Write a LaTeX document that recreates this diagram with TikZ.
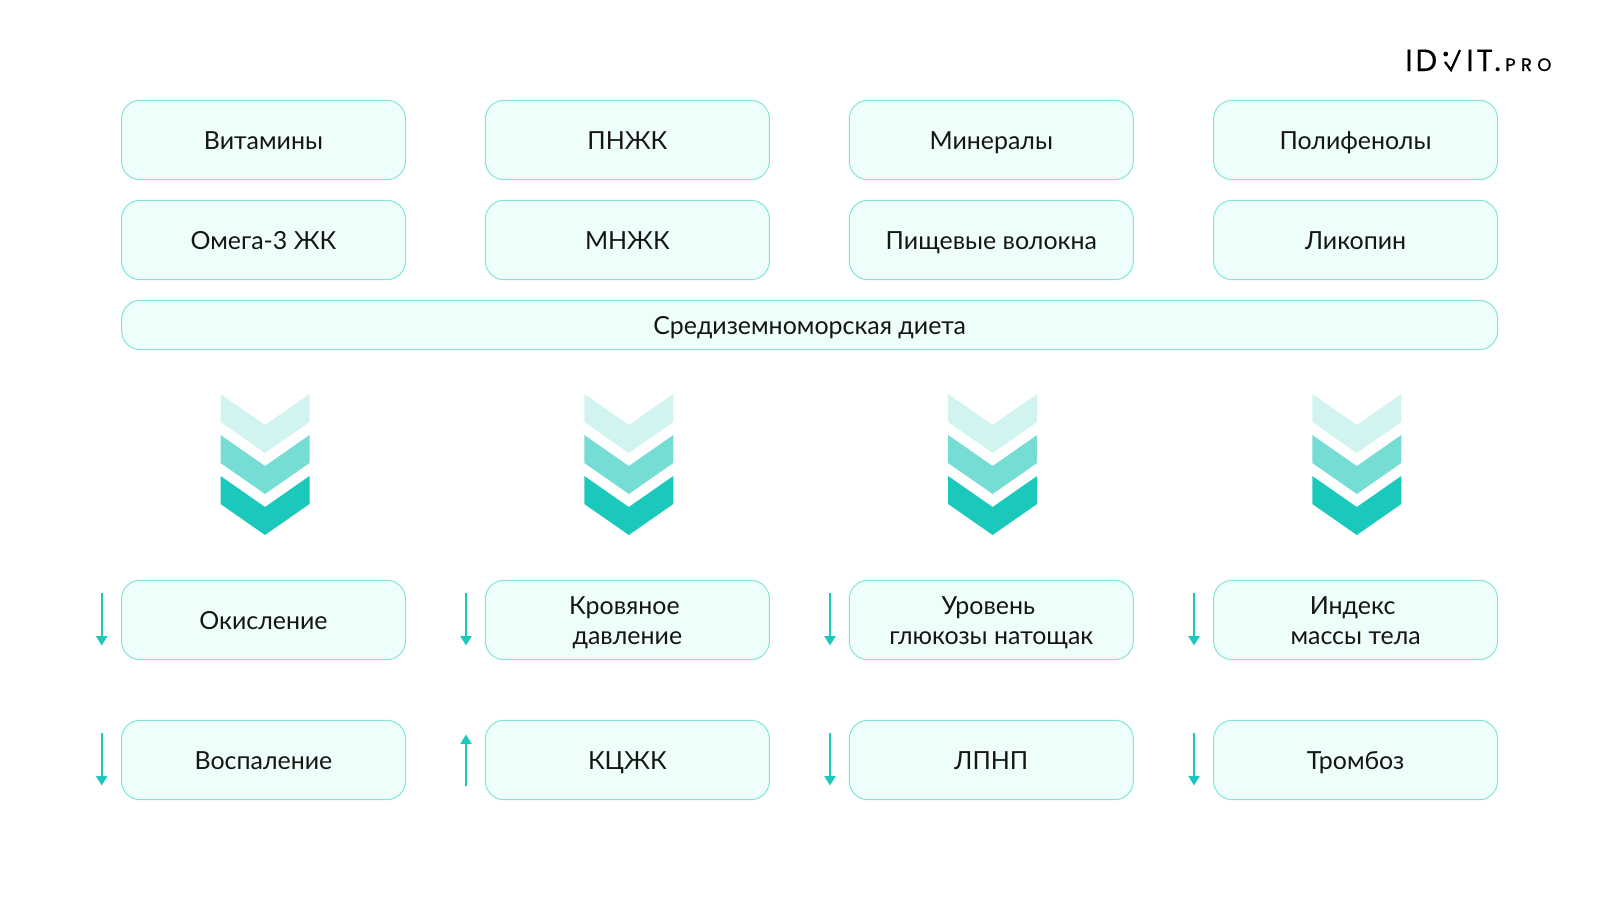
\documentclass[tikz,border=0pt]{standalone}
\usepackage{fontspec}
\setmainfont{Lato}
\newfontfamily\logofont[FakeBold=0.35]{Poppins}
\newfontfamily\logofontsmall[FakeBold=0.9]{Poppins}
\definecolor{boxfill}{HTML}{EEFEFB}
\definecolor{boxline}{HTML}{86E2DA}
\definecolor{teal}{HTML}{1BC8BC}
\definecolor{tealB}{HTML}{76DDD4}
\definecolor{tealC}{HTML}{D2F4F1}
\definecolor{ink}{HTML}{151515}
\usetikzlibrary{arrows.meta}
\tikzset{
 box/.style={draw=boxline,fill=boxfill,line width=.75pt,rounded corners=14pt,minimum width=213pt,minimum height=59.6pt,inner sep=0pt,text=ink,text height=14pt,text depth=0pt,font=\fontsize{18.7}{23}\selectfont},
 barbox/.style={box,minimum width=1032pt,minimum height=37pt},
 trend/.style={draw=teal,line width=1.4pt,-{Triangle[length=7pt,width=8.2pt,fill=teal]}},
 logotext/.style={anchor=base west,inner sep=0pt,text=black,font=\logofont\fontsize{23}{23}\selectfont},
 logosmall/.style={anchor=base west,inner sep=0pt,text=black,font=\logofontsmall\fontsize{13.5}{13.5}\selectfont}
}
\newcommand{\twolines}[2]{\raisebox{-11.5pt}{\smash{\parbox[b]{205pt}{\centering\baselineskip=22.6pt #1\\#2}}}}
\newcommand{\chevset}[1]{%
 \fill[tealC] (#1-44.5,394)--(#1,425)--(#1+44.5,394)--(#1+44.5,422)--(#1,453)--(#1-44.5,422)--cycle;
 \fill[tealB] (#1-44.5,435)--(#1,466)--(#1+44.5,435)--(#1+44.5,463)--(#1,494)--(#1-44.5,463)--cycle;
 \fill[teal] (#1-44.5,476)--(#1,507)--(#1+44.5,476)--(#1+44.5,504)--(#1,535)--(#1-44.5,504)--cycle;
}
\begin{document}
\begin{tikzpicture}[x=.75pt,y=-.75pt]
\useasboundingbox (0,0) rectangle (1600,900);
% top boxes
\node[box] (a1) at (263.5,140) {Витамины};
\node[box] (a2) at (627.4,140) {ПНЖК};
\node[box] (a3) at (991.3,140) {Минералы};
\node[box] (a4) at (1355.6,140) {Полифенолы};
\node[box] (b1) at (263.5,240) {Омега-3 ЖК};
\node[box] (b2) at (627.4,240) {МНЖК};
\node[box] (b3) at (991.3,240) {Пищевые волокна};
\node[box] (b4) at (1355.6,240) {Ликопин};
\node[barbox] (bar) at (809.7,325) {Средиземноморская диета};
% chevrons
\chevset{265}
\chevset{628.8}
\chevset{992.6}
\chevset{1356.8}
% bottom boxes
\node[box] (c1) at (263.5,620) {Окисление};
\node[box] (c2) at (627.4,620) {\twolines{Кровяное\kern4.5pt}{давление}};
\node[box] (c3) at (991.3,620) {\twolines{Уровень\kern4.5pt}{глюкозы натощак}};
\node[box] (c4) at (1355.6,620) {\twolines{Индекс\kern4.5pt}{массы тела}};
\node[box] (d1) at (263.5,760) {Воспаление};
\node[box] (d2) at (627.4,760) {КЦЖК};
\node[box] (d3) at (991.3,760) {ЛПНП};
\node[box] (d4) at (1355.6,760) {Тромбоз};
% trend arrows
\foreach \n/\x in {1/101.7,2/466,3/830,4/1194}{
 \coordinate (cs\n) at (\x,593); \coordinate (ce\n) at (\x,645.5);
 \draw[trend] (cs\n) -- (ce\n);
}
\foreach \n/\x in {1/101.7,3/830,4/1194}{
 \coordinate (ds\n) at (\x,733); \coordinate (de\n) at (\x,785.5);
 \draw[trend] (ds\n) -- (de\n);
}
\coordinate (ds2) at (466,786); \coordinate (de2) at (466,734.5);
\draw[trend] (ds2) -- (de2);
% logo
\node[logotext] (logoA) at (1405,71) {I\hspace{2pt}D};
\fill[black] (1445.7,54) circle (2.4);
\draw[black,line width=1.7pt] (1445,62)--(1451,70)--(1460,50);
\node[logotext] (logoB) at (1466,71) {I\hspace{2pt}T\hspace{1pt}.};
\node[logosmall] (logoC) at (1505,71) {P\hspace{4pt}R\hspace{4pt}O};
\end{tikzpicture}
\end{document}
